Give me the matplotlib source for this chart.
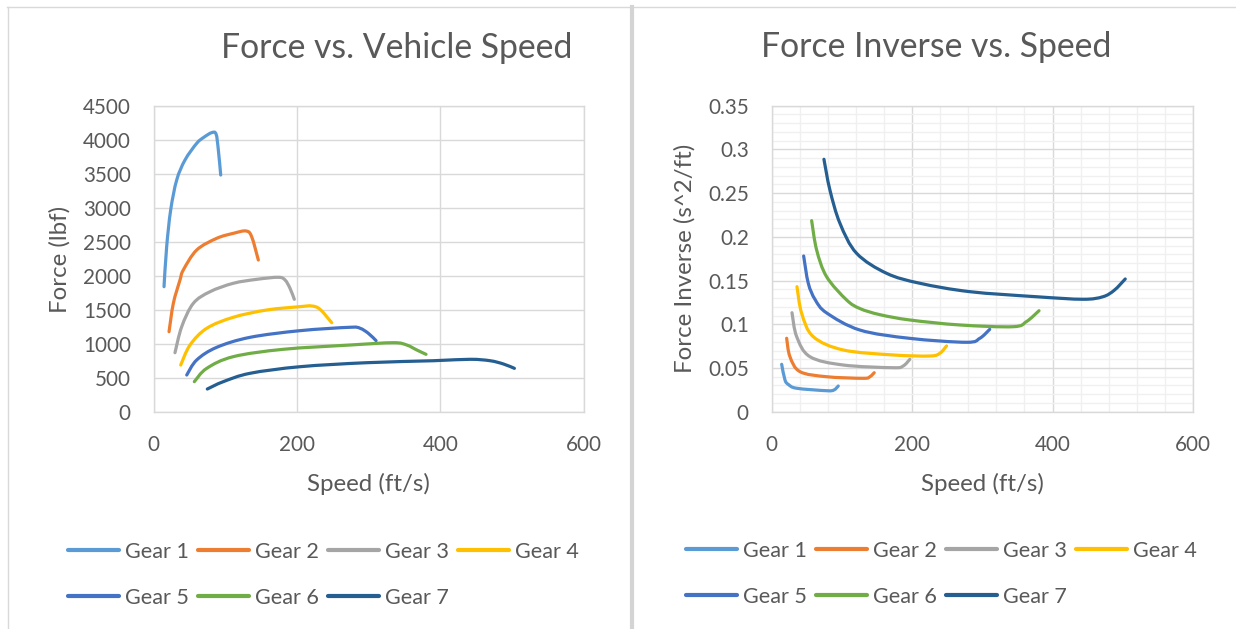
import matplotlib
matplotlib.use("Agg")
import matplotlib.pyplot as plt
from matplotlib.lines import Line2D
from matplotlib.patches import PathPatch
from matplotlib.path import Path
from matplotlib.ticker import MultipleLocator

plt.rcParams["font.family"] = ["Lato", "DejaVu Sans"]

GEARS = ["Gear 1", "Gear 2", "Gear 3", "Gear 4", "Gear 5", "Gear 6", "Gear 7"]
COLORS = ["#5B9BD5", "#ED7D31", "#A5A5A5", "#FFC000", "#4472C4", "#70AD47", "#255E91"]

# Force vs. vehicle speed (ft/s, lbf)
g1_v = [14.4, 18.1, 23.7, 32.1, 43.7, 60.0, 70.0, 80.9, 87.0, 90.2, 93.5]
g1_f = [1843, 2431, 2971, 3412, 3706, 3951, 4040, 4108, 4088, 3853, 3485]
g2_v = [21.4, 27.4, 36.7, 41.3, 60.0, 87.9, 111.0, 128.8, 136.7, 146.0]
g2_f = [1181, 1598, 1941, 2088, 2382, 2554, 2627, 2662, 2578, 2235]
g3_v = [29.7, 39.1, 55.3, 78.6, 111.1, 143.8, 173.9, 183.3, 190.2, 196.2]
g3_f = [872, 1255, 1598, 1769, 1893, 1951, 1981, 1941, 1819, 1657]
g4_v = [37.7, 50.7, 74.0, 111.1, 157.7, 204.2, 220.5, 232.1, 248.4]
g4_f = [691, 985, 1231, 1393, 1500, 1549, 1559, 1510, 1313]
g5_v = [46.1, 60.0, 87.9, 134.4, 204.2, 274.0, 288.0, 299.5, 310.3]
g5_f = [544, 765, 951, 1098, 1196, 1246, 1231, 1157, 1049]
g6_v = [56.7, 74.0, 111.1, 180.9, 274.0, 334.4, 353.1, 367.1, 380.0]
g6_f = [446, 642, 814, 922, 985, 1019, 985, 912, 848]
g7_v = [74.8, 97.1, 134.4, 204.2, 297.3, 390.2, 441.5, 469.4, 488.0, 503.3]
g7_f = [338, 446, 569, 666, 725, 754, 775, 754, 706, 642]

# Force inverse vs. speed (ft/s, s^2/ft)
h1_v = [14.2, 18.9, 24.0, 35.6, 78.2, 88.6, 94.8]
h1_y = [0.0542, 0.0363, 0.0310, 0.0268, 0.0240, 0.0248, 0.0294]
h2_v = [21.3, 26.0, 40.3, 78.2, 130.3, 139.8, 146.0]
h2_y = [0.0840, 0.0629, 0.0458, 0.0400, 0.0382, 0.0400, 0.0446]
h3_v = [28.9, 35.6, 54.5, 101.9, 173.0, 187.2, 196.7]
h3_y = [0.1132, 0.0858, 0.0629, 0.0534, 0.0503, 0.0523, 0.0599]
h4_v = [36.0, 42.7, 59.2, 101.9, 173.0, 225.2, 239.4, 249.0]
h4_y = [0.1430, 0.1125, 0.0858, 0.0706, 0.0649, 0.0637, 0.0668, 0.0752]
h5_v = [45.5, 52.1, 62.0, 78.2, 125.6, 196.7, 277.4, 296.3, 310.5]
h5_y = [0.1781, 0.1469, 0.1280, 0.1130, 0.0934, 0.0839, 0.0794, 0.0839, 0.0942]
h6_v = [56.9, 64.0, 78.2, 106.7, 125.6, 154.0, 196.7, 267.9, 343.7, 362.7, 380.7]
h6_y = [0.2185, 0.1850, 0.1544, 0.1278, 0.1180, 0.1110, 0.1049, 0.0992, 0.0972, 0.1030, 0.1155]
h7_v = [74.4, 82.9, 97.2, 120.9, 163.6, 211.0, 282.0, 377.0, 443.3, 471.7, 488.0, 503.5]
h7_y = [0.2887, 0.2536, 0.2155, 0.1812, 0.1583, 0.1469, 0.1373, 0.1315, 0.1286, 0.1315, 0.1390, 0.1518]

force_series = [(g1_v, g1_f), (g2_v, g2_f), (g3_v, g3_f), (g4_v, g4_f),
                (g5_v, g5_f), (g6_v, g6_f), (g7_v, g7_f)]
inverse_series = [(h1_v, h1_y), (h2_v, h2_y), (h3_v, h3_y), (h4_v, h4_y),
                  (h5_v, h5_y), (h6_v, h6_y), (h7_v, h7_y)]

TEXT = "#595959"
GRID = "#d9d9d9"
W, H = 1236, 629


def px_rect(left, top, right, bottom):
    return [left / W, 1 - bottom / H, (right - left) / W, (bottom - top) / H]


def smooth_path(xs, ys):
    # Bezier path through the points, like Excel's "smoothed line"
    pts = list(zip(xs, ys))
    n = len(pts)
    verts = [pts[0]]
    codes = [Path.MOVETO]
    for i in range(n - 1):
        p0 = pts[i - 1] if i > 0 else pts[i]
        p1 = pts[i]
        p2 = pts[i + 1]
        p3 = pts[i + 2] if i + 2 < n else pts[i + 1]
        c1 = (p1[0] + (p2[0] - p0[0]) / 6, p1[1] + (p2[1] - p0[1]) / 6)
        c2 = (p2[0] - (p3[0] - p1[0]) / 6, p2[1] - (p3[1] - p1[1]) / 6)
        verts += [c1, c2, p2]
        codes += [Path.CURVE4] * 3
    return Path(verts, codes)


def draw_series(ax, series):
    for (x, y), c in zip(series, COLORS):
        patch = PathPatch(smooth_path(x, y), fill=False, edgecolor=c, lw=2.3,
                          capstyle="round", joinstyle="round")
        ax.add_patch(patch)


def style_axes(ax):
    for s in ax.spines.values():
        s.set_color(GRID)
        s.set_linewidth(1.0)
    ax.tick_params(which="both", length=0, labelsize=14.9, labelcolor=TEXT, pad=16.5)
    ax.grid(True, which="major", color=GRID, linewidth=1.0)
    ax.set_axisbelow(True)


def add_legend(ax, fig, cx, cy):
    # matplotlib fills legend columns first; reorder so rows read Gear 1..4, 5..7
    order = [0, 4, 1, 5, 2, 6, 3]
    handles = [Line2D([0], [0], color=COLORS[i], lw=3, solid_capstyle="round") for i in order]
    labels = [GEARS[i] for i in order]
    ax.legend(handles, labels, ncol=4, loc="center",
              bbox_to_anchor=(cx / W, 1 - cy / H), bbox_transform=fig.transFigure,
              frameon=False, fontsize=15.6, labelcolor=TEXT,
              handlelength=2.35, handletextpad=0.25, columnspacing=0.45,
              labelspacing=1.2, borderpad=0)


def main():
    fig = plt.figure(figsize=(12.36, 6.29), dpi=100)
    fig.patch.set_facecolor("white")

    # Left chart
    ax1 = fig.add_axes(px_rect(153.7, 106, 583.7, 412))
    draw_series(ax1, force_series)
    ax1.set_xlim(0, 600)
    ax1.set_ylim(0, 4500)
    ax1.xaxis.set_major_locator(MultipleLocator(200))
    ax1.yaxis.set_major_locator(MultipleLocator(500))
    style_axes(ax1)
    ax1.set_title("Force vs. Vehicle Speed", fontsize=24.3, color=TEXT,
                  x=0.566, y=(412 - 66) / 306, va="baseline")
    ax1.set_xlabel("Speed (ft/s)", fontsize=17.3, color=TEXT, va="center")
    ax1.xaxis.set_label_coords(0.5, (412 - 484) / 306)
    ax1.set_ylabel("Force (lbf)", fontsize=17.3, color=TEXT, va="center")
    ax1.yaxis.set_label_coords((60 - 153.7) / 430, 0.5)
    add_legend(ax1, fig, 323.5, 575)

    # Right chart
    ax2 = fig.add_axes(px_rect(771.7, 105.7, 1193, 411.7))
    draw_series(ax2, inverse_series)
    ax2.set_xlim(0, 600)
    ax2.set_ylim(0, 0.35)
    ax2.xaxis.set_major_locator(MultipleLocator(200))
    ax2.xaxis.set_minor_locator(MultipleLocator(40))
    ax2.yaxis.set_minor_locator(MultipleLocator(0.01))
    ax2.set_yticks([0, 0.05, 0.1, 0.15, 0.2, 0.25, 0.3, 0.35])
    ax2.set_yticklabels(["0", "0.05", "0.1", "0.15", "0.2", "0.25", "0.3", "0.35"])
    ax2.grid(True, which="minor", color="#f0f0f0", linewidth=1.0)
    style_axes(ax2)
    ax2.set_title("Force Inverse vs. Speed", fontsize=24.3, color=TEXT,
                  x=0.391, y=(411.7 - 65) / 306, va="baseline")
    ax2.set_xlabel("Speed (ft/s)", fontsize=17.3, color=TEXT, va="center")
    ax2.xaxis.set_label_coords(0.5, (411.7 - 484) / 306)
    ax2.set_ylabel("Force Inverse (s^2/ft)", fontsize=17.3, color=TEXT, va="center")
    ax2.yaxis.set_label_coords((685 - 771.7) / 421.3, 0.5)
    add_legend(ax2, fig, 941.5, 574)

    # Chart borders and separator
    fig.add_artist(Line2D([7 / W, 1], [1 - 7 / H, 1 - 7 / H], color=GRID, lw=1.0))
    fig.add_artist(Line2D([7.5 / W, 7.5 / W], [0, 1 - 7 / H], color=GRID, lw=1.0))
    fig.add_artist(Line2D([631.5 / W, 631.5 / W], [0, 1 - 7 / H], color="#d4d4d4", lw=3.0))

    fig.savefig("out.png", dpi=100, facecolor="white")


if __name__ == "__main__":
    main()
